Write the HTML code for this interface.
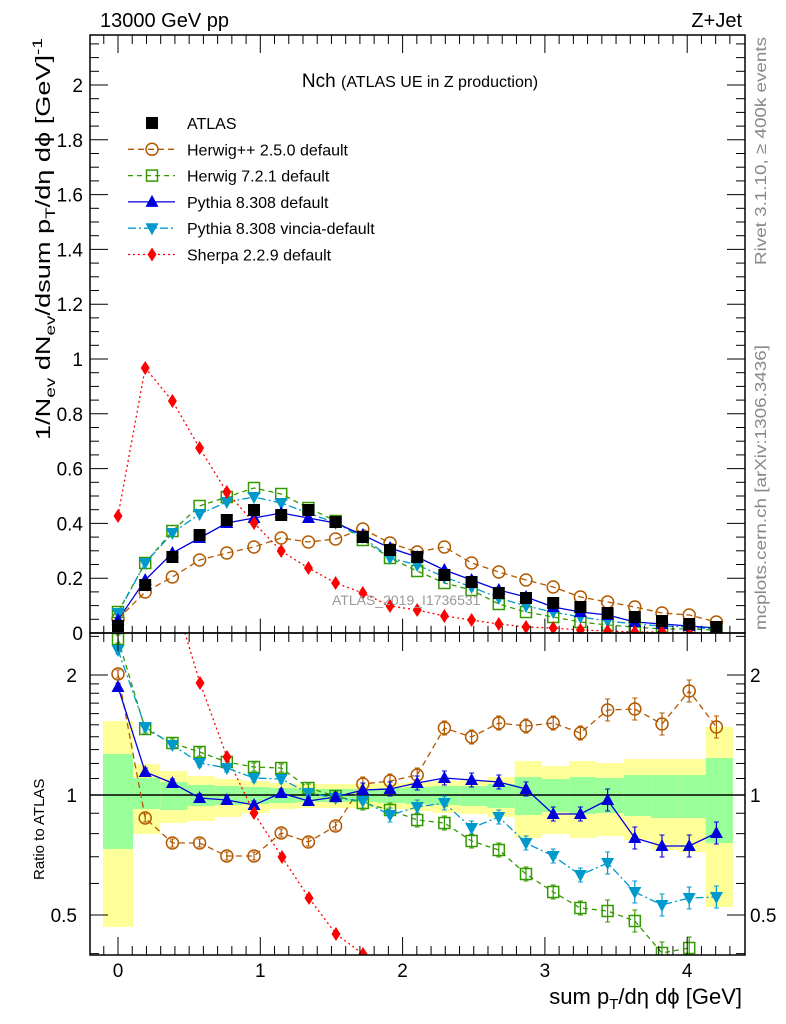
<!DOCTYPE html>
<html><head><meta charset="utf-8"><style>
html,body{margin:0;padding:0;background:#fff;}
svg{display:block;font-family:"Liberation Sans",sans-serif;}
</style></head><body>
<svg id="s" width="786" height="1024" xmlns="http://www.w3.org/2000/svg"></svg>
<script>
const s=document.getElementById('s');
let h='';
const X=i=>118+i*27.2;
const xu=v=>118+v*142.3;
const bands=[[721,927,754,849],[764,834,778,809],[771,823,782,810],[776,821,785,806],[779,817,786,805],[781,813,787,804],[783,809,788,803],[784,808,789,802],[784,808,789,802],[784,808,789,802],[783,809,788,803],[782,811,787,804],[781,813,786,805],[780,814,786,806],[777,817,784,808],[761,838,777,815],[766,834,779,812],[761,838,777,814],[763,836,778,813],[759,840,775,816],[759,850,775,818],[759,852,775,818],[727,907,758,843]];
const edges=[103];for(let i=1;i<=23;i++)edges.push(133+(i-1)*27.27);
bands.forEach((b,i)=>{const x0=edges[i],x1=edges[i+1];
h+=`<rect x="${x0}" y="${b[0]}" width="${x1-x0}" height="${b[1]-b[0]}" fill="#ffff99"/>`;
h+=`<rect x="${x0}" y="${b[2]}" width="${x1-x0}" height="${b[3]-b[2]}" fill="#99ff99"/>`;});
h+=`<line x1="90" y1="795" x2="745" y2="795" stroke="#000" stroke-width="1.5"/>`;
const atlas=[626,585,557,535,520,510,515,510,522,537,550,557,575,582,593,598,603,607,613,617,621,624,627];
const blue=[620,580,553,538,523,518,513,518,523,535,548,557,570,580,590,597,607,612,615,622,624,626,628];
const green=[612,563,531,506,497,488,494,508,521,540,558,571,583,590,604,612,617,622,625,627,629,629,630];
const cyan=[613,563,533,514,502,497,503,513,523,537,558,565,577,587,598,606,612,617,621,624,626,627,629];
const brown=[619,592,577,560,553,547,538,542,539,529,543,552,547,563,572,580,587,597,602,607,613,615,622];
const red=[516,368,401,448,492,523,551,568,583,593,606,610,616,620,624,627,628,630,631,632,632,633,633];
const rBlue=[687,772,783,798,800,805,793,801,797,790,789,783,778,780,782,789,814,814,800,838,846,846,833];
const rBrown=[674,818,843,843,856,856,833,842,826,784,781,775,728,737,723,726,723,733,710,709,724,691,727];
const rGreen=[639,729,743,752,762,767,768,788,796,803,810,820,823,841,850,874,892,908,911,921,953,948];
const rCyan=[650,727,745,763,768,778,779,793,798,801,815,807,803,828,817,843,856,875,863,892,905,898,897];
const C={brown:'#b35900',green:'#339900',blue:'#0000dd',cyan:'#0099cc',red:'#ff0000'};
function line(ys,col,dash,clip,w){let p=ys.map((y,i)=>`${X(i).toFixed(1)},${y}`).join(' ');
return `<polyline points="${p}" fill="none" stroke="${col}" stroke-width="${w||1.3}" ${dash?`stroke-dasharray="${dash}"`:''} clip-path="url(#${clip})"/>`;}
const mk={
sq:(x,y)=>`<rect x="${x-6}" y="${y-6}" width="12" height="12" fill="#000"/>`,
circ:(x,y)=>`<circle cx="${x}" cy="${y}" r="6" fill="none" stroke="${C.brown}" stroke-width="1.5"/>`,
osq:(x,y)=>`<rect x="${x-5.5}" y="${y-5.5}" width="11" height="11" fill="none" stroke="${C.green}" stroke-width="1.5"/>`,
tri:(x,y)=>`<polygon points="${x},${y-7} ${x-6.5},${y+5} ${x+6.5},${y+5}" fill="${C.blue}"/>`,
itri:(x,y)=>`<polygon points="${x},${y+7} ${x-6.5},${y-5} ${x+6.5},${y-5}" fill="${C.cyan}"/>`,
dia:(x,y)=>`<polygon points="${x},${y-7} ${x+4.5},${y} ${x},${y+7} ${x-4.5},${y}" fill="${C.red}"/>`};
function marks(ys,m,clip){return `<g clip-path="url(#${clip})">`+ys.map((y,i)=>mk[m](X(i),y)).join('')+'</g>';}
h+=`<defs><clipPath id="cm"><rect x="90" y="35" width="655" height="598"/></clipPath><clipPath id="cr"><rect x="90" y="633" width="655" height="322"/></clipPath></defs>`;
h+=line(brown,C.brown,'6,4','cm')+line(green,C.green,'5,4','cm')+line(cyan,C.cyan,'8,3,2,3','cm')+line(blue,C.blue,'','cm')+line(red,C.red,'2,3','cm');
h+=marks(brown,'circ','cm')+marks(green,'osq','cm')+marks(cyan,'itri','cm')+marks(blue,'tri','cm')+marks(red,'dia','cm')+marks(atlas,'sq','cm');
const redR=[[145,560],[172,590],[200,683],[227,757],[254,813],[282,857],[309,898],[336,934],[363,954],[380,975]];
h+=`<polyline points="${redR.map(p=>p.join(',')).join(' ')}" fill="none" stroke="${C.red}" stroke-width="1.3" stroke-dasharray="2,3" clip-path="url(#cr)"/>`;
h+=line(rBrown,C.brown,'6,4','cr')+line(rGreen,C.green,'5,4','cr')+line(rCyan,C.cyan,'8,3,2,3','cr')+line(rBlue,C.blue,'','cr');
function eb(ys,col,sz){let o='';ys.forEach((y,i)=>{const x=X(i);const e=sz(i);o+=`<line x1="${x}" y1="${y-e}" x2="${x}" y2="${y+e}" stroke="${col}" stroke-width="1.2"/><line x1="${x-2.5}" y1="${y-e}" x2="${x+2.5}" y2="${y-e}" stroke="${col}"/><line x1="${x-2.5}" y1="${y+e}" x2="${x+2.5}" y2="${y+e}" stroke="${col}"/>`;});return `<g clip-path="url(#cr)">${o}</g>`;}
const es=i=>i<9?4:(i<18?7:11);
h+=eb(rBrown,C.brown,es)+eb(rGreen,C.green,es)+eb(rCyan,C.cyan,es)+eb(rBlue,C.blue,es);
h+=marks(rBrown,'circ','cr')+marks(rGreen,'osq','cr')+marks(rCyan,'itri','cr')+marks(rBlue,'tri','cr');
h+=`<g clip-path="url(#cr)">`+[[200,683],[227,757],[254,813],[282,857],[309,898],[336,934],[363,954]].map(p=>mk.dia(p[0],p[1])).join('')+'</g>';
h+=`<rect x="90" y="35" width="655" height="598" fill="none" stroke="#000" stroke-width="1.5"/>`;
h+=`<rect x="90" y="633" width="655" height="322" fill="none" stroke="#000" stroke-width="1.5"/>`;
for(let k=-2;k<=44;k++){const v=k/10,x=xu(v);if(x<91||x>744)continue;const L=k%10==0?18:9;
h+=`<line x1="${x}" y1="633" x2="${x}" y2="${633-L*0.8}" stroke="#000"/><line x1="${x}" y1="955" x2="${x}" y2="${955-L}" stroke="#000"/><line x1="${x}" y1="633" x2="${x}" y2="${633+L}" stroke="#000"/><line x1="${x}" y1="35" x2="${x}" y2="${35+L}" stroke="#000"/>`;}
[0,1,2,3,4].forEach(v=>h+=`<text x="${xu(v)}" y="977" font-size="19" text-anchor="middle">${v}</text>`);
const ym=v=>633-v*274;
for(let k=0;k<=43;k++){const v=k*0.05,y=ym(v);if(y<36)continue;const L=k%4==0?18:9;
h+=`<line x1="90" y1="${y}" x2="${90+L}" y2="${y}" stroke="#000"/><line x1="745" y1="${y}" x2="${745-L}" y2="${y}" stroke="#000"/>`;
if(k%4==0){const t=(k==0?'0':(k%20==0?String(v):v.toFixed(1)));h+=`<text x="83" y="${y+7}" font-size="19" text-anchor="end">${t}</text>`;}}
const yr=r=>795-120*Math.log2(r);
[0.4,0.5,0.6,0.7,0.8,0.9,1,1.1,1.2,1.3,1.4,1.5,1.6,1.7,1.8,1.9,2,2.5].forEach(r=>{const y=yr(r);if(y<634||y>954)return;const L=(r==0.5||r==1||r==2)?18:9;
h+=`<line x1="90" y1="${y}" x2="${90+L}" y2="${y}" stroke="#000"/><line x1="745" y1="${y}" x2="${745-L}" y2="${y}" stroke="#000"/>`;});
[[0.5,'0.5'],[1,'1'],[2,'2']].forEach(([r,t])=>{const y=yr(r);h+=`<text x="77" y="${y+7}" font-size="19" text-anchor="end">${t}</text><text x="750" y="${y+7}" font-size="19">${t}</text>`;});
h+=`<text x="100" y="27" font-size="20">13000 GeV pp</text><text x="742" y="27" font-size="20" text-anchor="end">Z+Jet</text>`;
h+=`<text x="420" y="87" font-size="19" text-anchor="middle">Nch <tspan font-size="16">(ATLAS UE in Z production)</tspan></text>`;
h+=`<text x="332" y="605" font-size="14" fill="#999">ATLAS_2019_I1736531</text>`;
const leg=[['sq',null,'ATLAS'],['circ',[C.brown,'6,4'],'Herwig++ 2.5.0 default'],['osq',[C.green,'5,4'],'Herwig 7.2.1 default'],['tri',[C.blue,''],'Pythia 8.308 default'],['itri',[C.cyan,'8,3,2,3'],'Pythia 8.308 vincia-default'],['dia',[C.red,'2,3'],'Sherpa 2.2.9 default']];
leg.forEach((l,i)=>{const y=123+i*26.3;if(l[1])h+=`<line x1="128" y1="${y}" x2="175" y2="${y}" stroke="${l[1][0]}" stroke-width="1.3" ${l[1][1]?`stroke-dasharray="${l[1][1]}"`:''}/>`;
h+=mk[l[0]](152,y)+`<text x="187" y="${y+6}" font-size="16">${l[2]}</text>`;});
h+=`<text transform="translate(766,265) rotate(-90)" font-size="16" fill="#888" textLength="228" lengthAdjust="spacingAndGlyphs">Rivet 3.1.10, ≥ 400k events</text>`;
h+=`<text transform="translate(766,630) rotate(-90)" font-size="16" fill="#888" textLength="285" lengthAdjust="spacingAndGlyphs">mcplots.cern.ch [arXiv:1306.3436]</text>`;
h+=`<text transform="translate(50,440) rotate(-90)" font-size="20" textLength="402" lengthAdjust="spacingAndGlyphs">1/N<tspan font-size="14" dy="5">ev</tspan><tspan dy="-5"> dN</tspan><tspan font-size="14" dy="5">ev</tspan><tspan dy="-5">/dsum p</tspan><tspan font-size="14" dy="5">T</tspan><tspan dy="-5">/dη dϕ  [GeV]</tspan><tspan font-size="14" dy="-8">-1</tspan></text>`;
h+=`<text transform="translate(44,880) rotate(-90)" font-size="15">Ratio to ATLAS</text>`;
h+=`<text x="742" y="1004" font-size="22" text-anchor="end">sum p<tspan font-size="15" dy="5">T</tspan><tspan dy="-5">/dη dϕ [GeV]</tspan></text>`;
s.innerHTML=h;
</script>
</body></html>
